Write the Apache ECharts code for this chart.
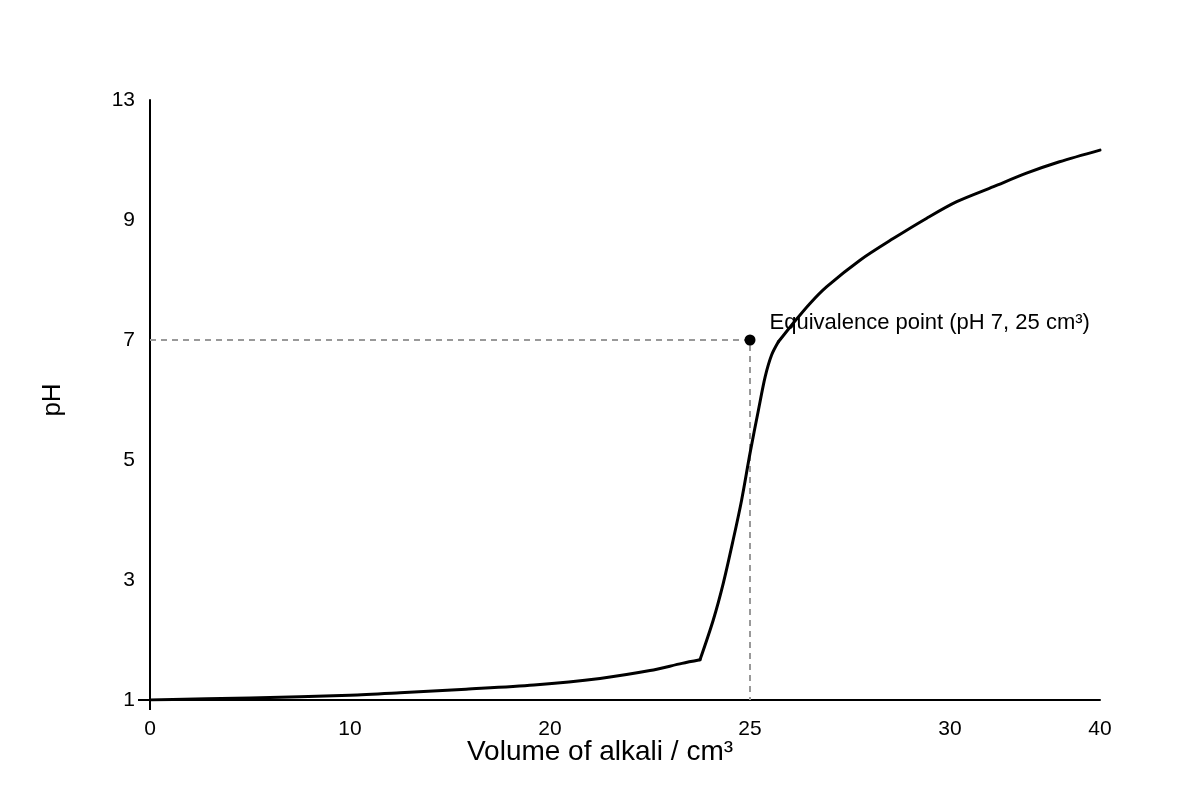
<!DOCTYPE html>
<html>
<head>
<meta charset="utf-8">
<script src="https://cdn.jsdelivr.net/npm/echarts@6/dist/echarts.min.js"></script>
<style>html,body{margin:0;padding:0;background:#fff}#chart{width:1200px;height:800px}</style>
</head>
<body>
<div id="chart"></div>
<script>
// ---- data ----
const xTickValues = [0, 10, 20, 25, 30, 40];
const yTickValues = [1, 3, 5, 7, 9, 13];
const volume = [0, 5, 10, 12.5, 15.8, 19.2, 21.25, 22.5, 23.3, 23.75, 24.08, 24.33, 24.58, 24.79, 25.0, 25.21, 25.38, 25.54, 25.71, 26.08, 26.5, 26.92, 27.75, 28.58, 29.42, 30.45, 32.9, 35.1, 37.3, 40];
const pH = [1, 1.035, 1.08, 1.12, 1.18, 1.25, 1.36, 1.49, 1.61, 1.67, 2.33, 2.94, 3.67, 4.33, 5.11, 5.83, 6.39, 6.75, 6.97, 7.28, 7.61, 7.89, 8.33, 8.69, 9.06, 9.61, 10.11, 10.56, 10.94, 11.33];
// volumes where the curve changes regime (sharp corners)
const cornerVolumes = [23.75, 25.71];
const eqVolume = 25;
const eqPH = 7;
const eqLabel = 'Equivalence point (pH 7, 25 cm³)';
const xTitle = 'Volume of alkali / cm³';
const yTitle = 'pH';

// ---- axis scale (piecewise: each tick interval occupies a slot) ----
const xSlots = [0, 1, 2, 3, 4, 4.75];
const ySlots = [0, 1, 2, 3, 4, 5];
function toSlot(v, ticks, slots) {
  for (let i = 0; i < ticks.length - 1; i++) {
    if (v <= ticks[i + 1] || i === ticks.length - 2) {
      const t = (v - ticks[i]) / (ticks[i + 1] - ticks[i]);
      return slots[i] + t * (slots[i + 1] - slots[i]);
    }
  }
}
const sx = v => toSlot(v, xTickValues, xSlots);
const sy = v => toSlot(v, yTickValues, ySlots);
function slotLabel(v, ticks, slots) {
  for (let i = 0; i < slots.length; i++) if (Math.abs(slots[i] - v) < 1e-6) return String(ticks[i]);
  return '';
}

const curve = volume.map((v, i) => [sx(v), sy(pH[i])]);
const c1 = volume.indexOf(cornerVolumes[0]);
const c2 = volume.indexOf(cornerVolumes[1]);
const segments = [curve.slice(0, c1 + 1), curve.slice(c1, c2 + 1), curve.slice(c2)];
const guide = [[sx(xTickValues[0]), sy(eqPH)], [sx(eqVolume), sy(eqPH)], [sx(eqVolume), sy(yTickValues[0])]];

const FONT = 'Liberation Sans, Arial, sans-serif';
const chart = echarts.init(document.getElementById('chart'));
chart.setOption({
  animation: false,
  backgroundColor: '#fff',
  grid: { left: 150, right: 100, top: 100, bottom: 100, containLabel: false, outerBoundsMode: 'none' },
  xAxis: {
    type: 'value', min: 0, max: xSlots[xSlots.length - 1],
    name: xTitle, nameLocation: 'middle', nameGap: 38, nameMoveOverlap: false,
    nameTextStyle: { fontSize: 28, color: '#000', fontFamily: FONT, padding: [0, 50, 0, 0] },
    axisLine: { show: true, onZero: false, lineStyle: { color: '#000', width: 2 } },
    axisTick: { show: true, customValues: [0], length: 10, lineStyle: { color: '#000', width: 2 } },
    splitLine: { show: false },
    axisLabel: {
      customValues: xSlots, margin: 19, fontSize: 21, color: '#000', fontFamily: FONT,
      formatter: v => slotLabel(v, xTickValues, xSlots)
    }
  },
  yAxis: {
    type: 'value', min: 0, max: ySlots[ySlots.length - 1],
    name: yTitle, nameLocation: 'middle', nameGap: 84, nameRotate: 90, nameMoveOverlap: false,
    nameTextStyle: { fontSize: 26, color: '#000', fontFamily: FONT },
    axisLine: { show: true, onZero: false, lineStyle: { color: '#000', width: 2 } },
    axisTick: { show: true, customValues: [0], length: 12, lineStyle: { color: '#000', width: 2 } },
    splitLine: { show: false },
    axisLabel: {
      customValues: ySlots, margin: 15, fontSize: 21, color: '#000', fontFamily: FONT,
      padding: [0, 0, 6, 0],
      formatter: v => slotLabel(v, yTickValues, ySlots)
    }
  },
  series: [
    {
      type: 'line', data: guide, symbol: 'none', silent: true,
      lineStyle: { color: '#999', width: 2, type: [6, 5] }, z: 1
    },
    ...segments.map(seg => ({
      type: 'line', data: seg, symbol: 'none', smooth: 0.3,
      lineStyle: { color: '#000', width: 3, cap: 'round', join: 'round' }, z: 3
    })),
    {
      type: 'scatter', data: [[sx(eqVolume), sy(eqPH)]], symbol: 'circle', symbolSize: 11,
      itemStyle: { color: '#000', opacity: 1 }, z: 4,
      label: {
        show: true, position: 'right', distance: 14, offset: [0, -17],
        formatter: eqLabel, fontSize: 22, color: '#000', fontFamily: FONT
      }
    }
  ]
});
</script>
</body>
</html>
